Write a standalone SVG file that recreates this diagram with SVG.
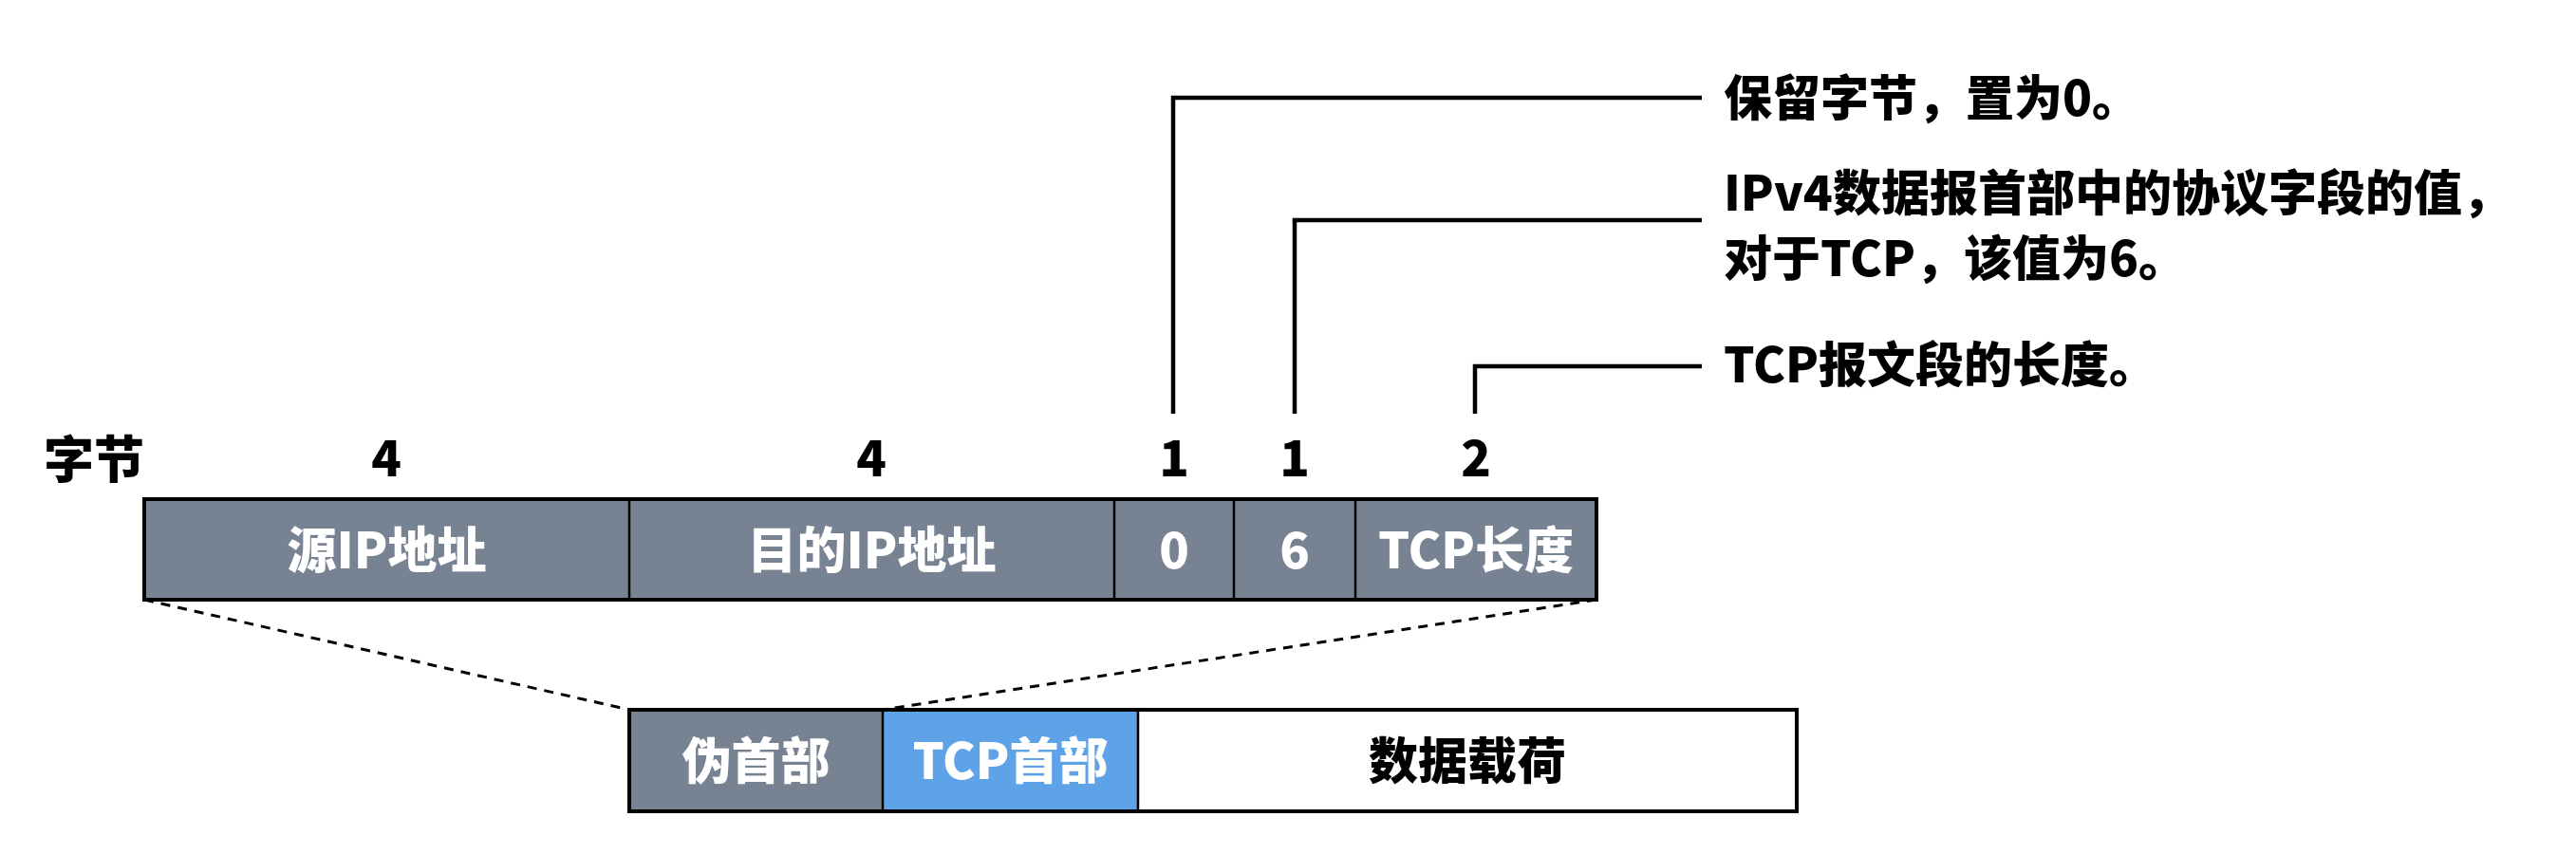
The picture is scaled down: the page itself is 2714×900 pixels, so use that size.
<svg xmlns="http://www.w3.org/2000/svg" width="2714" height="900" viewBox="0 0 2714 900">
<style>
text{font-family:"Noto Sans CJK SC","Noto Sans",sans-serif;font-weight:900}
.lbl{font-size:51px;fill:#000}
.num{font-size:52px;fill:#000;text-anchor:middle}
.in{font-size:52px;fill:#fff;text-anchor:middle}
.ind{font-size:52px;fill:#000;text-anchor:middle}
.grey{fill:#778393}
.blue{fill:#5ea3e8}
.white{fill:#fff}
.div{stroke:#000;stroke-width:2.5}
.frame{fill:none;stroke:#000;stroke-width:4}
.dash{stroke:#000;stroke-width:3;stroke-dasharray:10 8;fill:none}
.call{stroke:#000;stroke-width:4.5;fill:none}
</style>
<rect width="2714" height="900" fill="#fff"/>

<g id="bytes-label">
<text class="lbl" x="46" y="504" style="font-size:53px">字节</text>
<text class="num" x="407" y="502">4</text>
<text class="num" x="918" y="502">4</text>
<text class="num" x="1237" y="502">1</text>
<text class="num" x="1364" y="502">1</text>
<text class="num" x="1555" y="502">2</text>
</g>

<g id="pseudo-header-detail">
<g id="src-ip">
<rect class="grey" x="152" y="526" width="511" height="106"/>
<text class="in" x="407.5" y="599">源IP地址</text>
</g>
<g id="dst-ip">
<rect class="grey" x="663" y="526" width="511" height="106"/>
<text class="in" x="918.5" y="599">目的IP地址</text>
</g>
<g id="reserved">
<rect class="grey" x="1174" y="526" width="126" height="106"/>
<text class="in" x="1237" y="599">0</text>
</g>
<g id="protocol">
<rect class="grey" x="1300" y="526" width="128" height="106"/>
<text class="in" x="1364" y="599">6</text>
</g>
<g id="tcp-length">
<rect class="grey" x="1428" y="526" width="254" height="106"/>
<text class="in" x="1555" y="599">TCP长度</text>
</g>
<line class="div" x1="663" y1="526" x2="663" y2="632"/>
<line class="div" x1="1174" y1="526" x2="1174" y2="632"/>
<line class="div" x1="1300" y1="526" x2="1300" y2="632"/>
<line class="div" x1="1428" y1="526" x2="1428" y2="632"/>
<rect class="frame" x="152" y="526" width="1530" height="106"/>
</g>

<g id="segment">
<g id="pseudo-header">
<rect class="grey" x="663" y="748" width="267" height="107"/>
<text class="in" x="796.5" y="821">伪首部</text>
</g>
<g id="tcp-header">
<rect class="blue" x="930" y="748" width="269" height="107"/>
<text class="in" x="1064.5" y="821">TCP首部</text>
</g>
<g id="payload">
<rect class="white" x="1199" y="748" width="694" height="107"/>
<text class="ind" x="1546" y="821">数据载荷</text>
</g>
<line class="div" x1="930" y1="748" x2="930" y2="855"/>
<line class="div" x1="1199" y1="748" x2="1199" y2="855"/>
<rect class="frame" x="663" y="748" width="1230" height="107"/>
</g>

<g id="connectors">
<line class="dash" x1="152" y1="632" x2="663" y2="748"/>
<line class="dash" x1="1682" y1="632" x2="930" y2="748"/>
<polyline class="call" points="1236,436 1236,103 1793,103"/>
<polyline class="call" points="1364,436 1364,232 1793,232"/>
<polyline class="call" points="1554,436 1554,386 1793,386"/>
</g>

<g id="note-reserved">
<text class="lbl" x="1816" y="122">保留字节，置为0。</text>
</g>
<g id="note-protocol">
<text class="lbl" x="1816" y="222">IPv4数据报首部中的协议字段的值，</text>
<text class="lbl" x="1816" y="291">对于TCP，该值为6。</text>
</g>
<g id="note-length">
<text class="lbl" x="1816" y="403">TCP报文段的长度。</text>
</g>
</svg>
